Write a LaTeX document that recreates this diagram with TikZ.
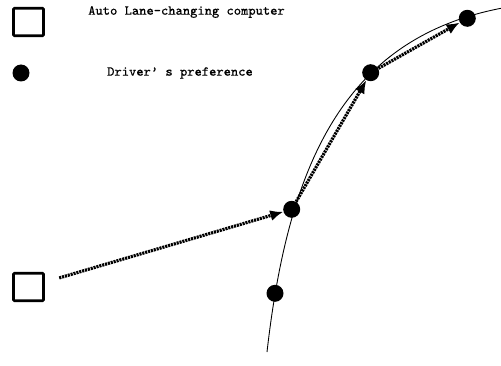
\documentclass[tikz,border=0pt]{standalone}
\usepackage{fontspec}
\setmonofont[FakeBold=0.2]{Latin Modern Mono}
\usetikzlibrary{arrows.meta}

\begin{document}
\begin{tikzpicture}[
    pref/.style={circle,fill,inner sep=0pt,minimum size=0.34cm},
    autobox/.style={draw,line width=1.5pt,rounded corners=0.6pt,minimum width=0.6cm,minimum height=0.55cm},
    move/.style={line width=1.8pt,dash pattern=on 1.2pt off 0.5pt,-{Latex[length=0.26cm,width=0.22cm]}},
    legend/.style={font=\ttfamily\fontsize{7.8}{9}\selectfont}]
    \useasboundingbox (0,0) rectangle (10.02,7.3);
    % legend
    \node[legend] (legboxtext) at (3.73,7.06) {Auto Lane-changing computer};
    \node[autobox] (legbox) at (0.57,6.86) {};
    \node[pref] (legdot) at (0.42,5.84) {};
    \node[legend] (legdottext) at (3.6,5.84) {Driver’ s preference};
    % lane
    \draw[line width=0.5pt] (5.34,0.26) .. controls (5.76,3.95) and (6.84,6.52) .. (10.02,7.134);
    \node[pref] (p1) at (5.834,3.114) {};
    \node[pref] (p2) at (7.414,5.846) {};
    \node[pref] (p3) at (9.346,6.934) {};
    \node[pref] (p4) at (5.5,1.434) {};
    \node[autobox] (computer) at (0.57,1.56) {};
    % moves
    \draw[move,shorten <=0.3cm] (computer) -- (p1);
    \draw[move] (p1) -- (p2);
    \draw[move] (p2) -- (p3);
\end{tikzpicture}
\end{document}
